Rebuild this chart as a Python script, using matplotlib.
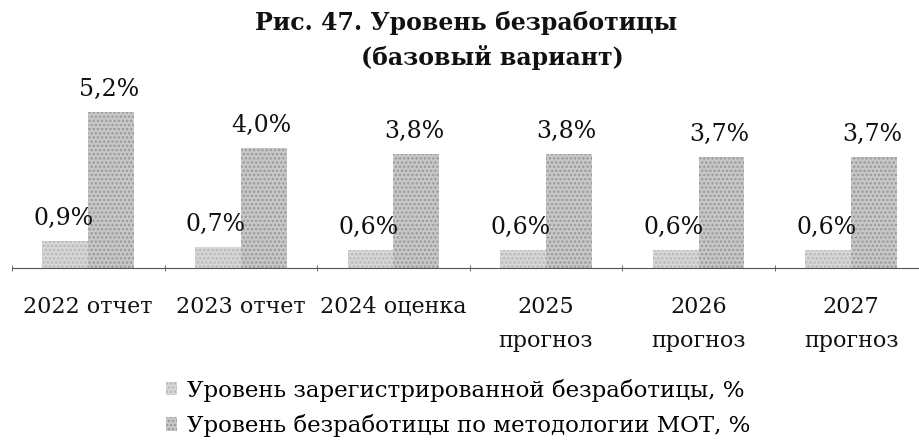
import numpy as np
import matplotlib
matplotlib.use("Agg")
import matplotlib.pyplot as plt

plt.rcParams['font.family'] = ['DejaVu Serif']
plt.rcParams['hatch.linewidth'] = 1.2

categories = ["2022 отчет", "2023 отчет", "2024 оценка",
              "2025\nпрогноз", "2026\nпрогноз", "2027\nпрогноз"]
registered = [0.9, 0.7, 0.6, 0.6, 0.6, 0.6]
ilo = [5.2, 4.0, 3.8, 3.8, 3.7, 3.7]
series_names = ["Уровень зарегистрированной безработицы, %",
                "Уровень безработицы по методологии МОТ, %"]

fig = plt.figure(figsize=(9.2, 4.45), dpi=100)
ax = fig.add_axes([0.013, 0.398, 0.995, 0.4045])

x = np.arange(len(categories))
w = 0.3
b1 = ax.bar(x - w / 2, registered, w, color='#d6d6d6', edgecolor='#b8b8b8',
            hatch='....', linewidth=0, label=series_names[0])
b2 = ax.bar(x + w / 2, ilo, w, color='#c8c8c8', edgecolor='#999999',
            hatch='....', linewidth=0, label=series_names[1])

for bars, vals in ((b1, registered), (b2, ilo)):
    for r, v in zip(bars, vals):
        ax.annotate(f"{v:.1f}%".replace('.', ','),
                    (r.get_x() + r.get_width() / 2, v),
                    xytext=(-1.5, 8), textcoords='offset points',
                    ha='center', va='bottom', fontsize=17, color='#111111')

ax.set_xlim(-0.5, len(categories) - 0.5)
ax.set_ylim(0, 6)
for s in ('left', 'right', 'top'):
    ax.spines[s].set_visible(False)
ax.spines['bottom'].set_color('#555555')
ax.set_yticks([])
ax.set_xticks(x)
ax.set_xticklabels(categories, fontsize=16, color='#111111', linespacing=1.7)
ax.tick_params(axis='x', length=0, pad=20)
ax.set_xticks(np.arange(-0.5, len(categories)), minor=True)
ax.tick_params(axis='x', which='minor', length=5, direction='inout', color='#555555')

fig.text(0.507, 1 - 23 / 445, "Рис. 47. Уровень безработицы",
         ha='center', va='center', fontsize=17, fontweight='bold', color='#111111')
fig.text(0.535, 1 - 58 / 445, "(базовый вариант)",
         ha='center', va='center', fontsize=17, fontweight='bold', color='#111111')

fig.legend(handles=[b1, b2], loc='upper left', bbox_to_anchor=(0.17, 0.17),
           frameon=False, fontsize=16.5, handlelength=0.5, handleheight=0.5,
           handletextpad=0.45, labelspacing=0.55, borderaxespad=0)

fig.savefig("out.png", dpi=100)
